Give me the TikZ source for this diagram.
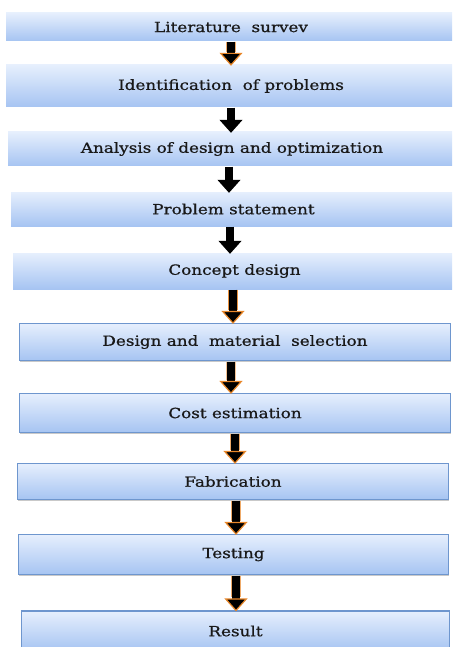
\documentclass[tikz,border=0pt]{standalone}
\usepackage{fontspec}
\setmainfont[FakeStretch=1.2,FakeBold=0.8]{DejaVu Serif}
\usetikzlibrary{arrows.meta,shadows}
\definecolor{boxtop}{HTML}{E6EFFD}
\definecolor{boxbot}{HTML}{A6C4F2}
\definecolor{boxline}{HTML}{6E96CE}
\definecolor{glow}{HTML}{E8872A}
\tikzset{
  plainbox/.style={rectangle, inner sep=0pt, top color=boxtop, bottom color=boxbot,
    font=\fontsize{14}{16}\selectfont, text=black!90},
  framebox/.style={plainbox, draw=boxline, line width=1.2pt,
    drop shadow={shadow xshift=0.8pt, shadow yshift=-1.5pt, opacity=0.35, fill=black!60}},
  flowglow/.style={draw=glow, line width=10pt},
  flowarrow/.style={draw=black, line width=8pt,
    -{Triangle[width=23pt,length=13pt,fill=black,color=#1,line width=1.2pt]}},
}
\begin{document}
\begin{tikzpicture}[x=1pt,y=-1pt]
\useasboundingbox (0,0) rectangle (452,647);
\clip (0,0) rectangle (452,647);
\fill[white] (0,0) rectangle (452,647);
% boxes: centre x, centre y, width, height
\node[plainbox, minimum width=450pt, minimum height=28pt] (b1) at (231,27) {Literature\ \ survev};
\node[plainbox, minimum width=450pt, minimum height=42pt] (b2) at (231,86) {Identification\ \ of problems};
\node[plainbox, minimum width=448pt, minimum height=34pt] (b3) at (232,149) {Analysis of design and optimization};
\node[plainbox, minimum width=445pt, minimum height=34pt] (b4) at (233.5,209) {Problem statement};
\node[plainbox, minimum width=443pt, minimum height=36pt] (b5) at (234.5,271) {Concept design};
\node[framebox, minimum width=431pt, minimum height=37pt] (b6) at (235,342) {Design and\ \ material\ \ selection};
\node[framebox, minimum width=431pt, minimum height=39pt] (b7) at (235,413) {Cost estimation};
\node[framebox, minimum width=431pt, minimum height=36pt] (b8) at (233,481.5) {Fabrication};
\node[framebox, minimum width=430pt, minimum height=40pt] (b9) at (233.5,554.5) {Testing};
\node[framebox, minimum width=428pt, minimum height=40pt] (b10) at (235.5,631) {Result};
% arrows
\foreach \a/\b/\x/\g/\c in {b1/b2/231/0.7/glow, b2/b3/231/0/black, b3/b4/229/0/black, b4/b5/230/0/black,
                            b5/b6/233/0.9/glow, b6/b7/231/0.5/glow, b7/b8/235/0.7/glow,
                            b8/b9/236/0.7/glow, b9/b10/236/0.7/glow}{
  \draw[flowglow, opacity=\g] ([yshift=-0.5pt]\a.south -| \x,0) -- ([yshift=13pt]\b.north -| \x,0);
  \draw[flowarrow=\c] ([yshift=-0.5pt]\a.south -| \x,0) -- ([yshift=-1pt]\b.north -| \x,0);
}
\end{tikzpicture}
\end{document}
